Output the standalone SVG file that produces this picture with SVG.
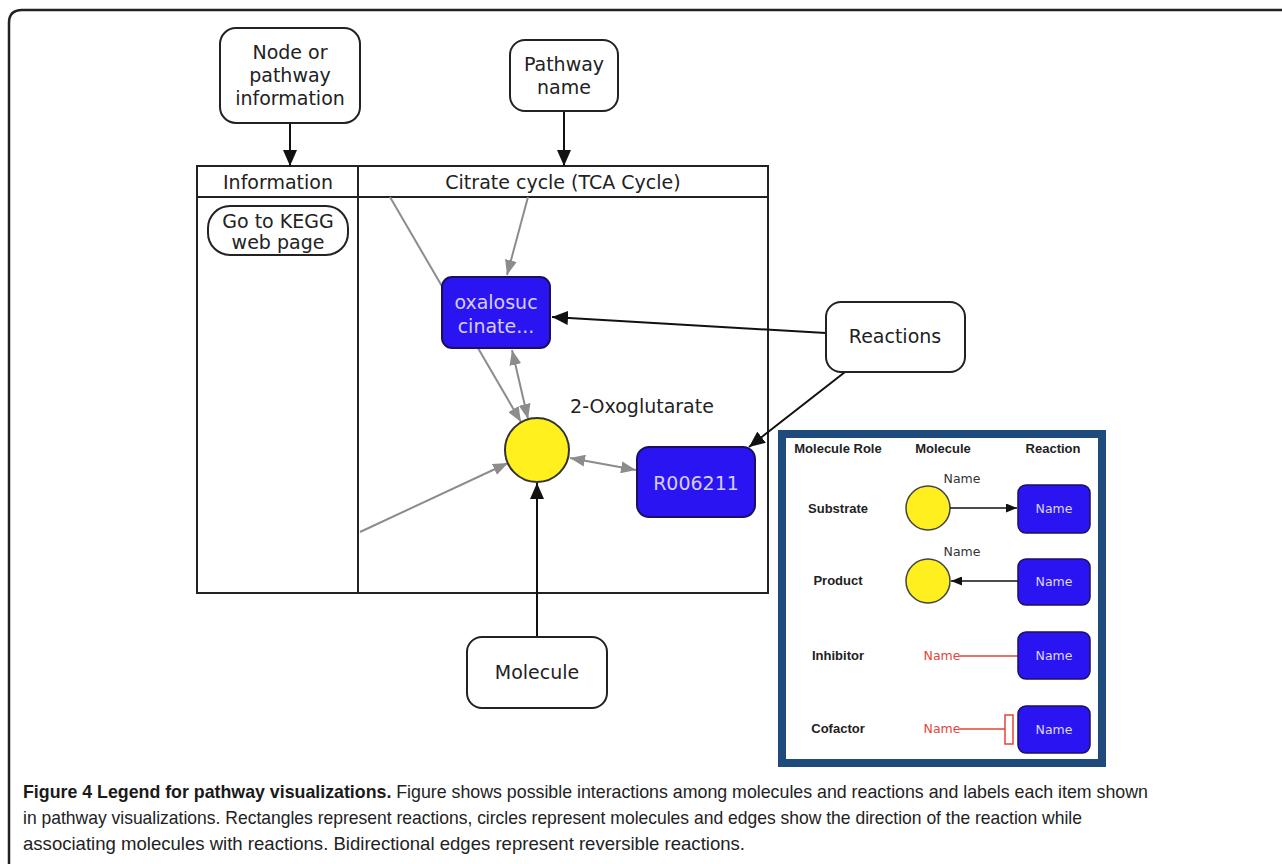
<svg xmlns="http://www.w3.org/2000/svg" width="1282" height="864" viewBox="0 0 1282 864">
<defs>
<style>
.call{fill:#fff;stroke:#222;stroke-width:2}
.t{font-family:"DejaVu Sans",Verdana,sans-serif;font-size:19px;fill:#222;text-anchor:middle}
.tb{font-family:"DejaVu Sans",Verdana,sans-serif;font-size:19px;fill:#d4cfff;text-anchor:middle}
.rx{fill:#2b14f2;stroke:#1b1060;stroke-width:2}
.mol{fill:#fff01e;stroke:#333;stroke-width:2}
.blk{stroke:#111;stroke-width:2;fill:none}
.gry{stroke:#8c8c8c;stroke-width:2;fill:none}
.lh{font-family:"Liberation Sans",Arial,sans-serif;font-weight:bold;font-size:13px;fill:#222;text-anchor:middle}
.ln{font-family:"DejaVu Sans",Verdana,sans-serif;font-size:12.5px;fill:#333;text-anchor:middle}
.lw{font-family:"DejaVu Sans",Verdana,sans-serif;font-size:12.5px;fill:#dcd8ff;text-anchor:middle}
.lr{font-family:"DejaVu Sans",Verdana,sans-serif;font-size:12.5px;fill:#e2443a;text-anchor:middle}
.cap{font-family:"Liberation Sans",Arial,sans-serif;font-size:18.5px;fill:#222}
</style>
<marker id="ab" markerUnits="userSpaceOnUse" markerWidth="16" markerHeight="14" refX="16" refY="7" orient="auto-start-reverse"><path d="M0,0 L16,7 L0,14 z" fill="#111"/></marker>
<marker id="ag" markerUnits="userSpaceOnUse" markerWidth="15" markerHeight="12" refX="15" refY="6" orient="auto-start-reverse"><path d="M0,0 L15,6 L0,12 z" fill="#8c8c8c"/></marker>
<marker id="as" markerUnits="userSpaceOnUse" markerWidth="11" markerHeight="9" refX="11" refY="4.5" orient="auto-start-reverse"><path d="M0,0 L11,4.5 L0,9 z" fill="#111"/></marker>
</defs>
<rect width="1282" height="864" fill="#fff"/>
<path d="M9,864 V23 Q9,10 22,10 H1282" fill="none" stroke="#222" stroke-width="2.5"/>

<g id="table">
<rect x="197" y="166" width="571" height="427" fill="none" stroke="#222" stroke-width="2"/>
<line x1="197" y1="197" x2="768" y2="197" stroke="#222" stroke-width="2"/>
<line x1="358" y1="166" x2="358" y2="593" stroke="#222" stroke-width="2"/>
<text class="t" x="278" y="189">Information</text>
<text class="t" x="563" y="189">Citrate cycle (TCA Cycle)</text>
</g>

<g id="connectors">
<line class="gry" x1="390" y1="197" x2="521" y2="422" marker-end="url(#ag)"/>
<line class="gry" x1="528" y1="197" x2="507" y2="275" marker-end="url(#ag)"/>
<line class="gry" x1="512" y1="350" x2="528" y2="419" marker-start="url(#ag)" marker-end="url(#ag)"/>
<line class="gry" x1="360" y1="532" x2="508" y2="463" marker-end="url(#ag)"/>
<line class="gry" x1="570" y1="458" x2="636" y2="470" marker-start="url(#ag)" marker-end="url(#ag)"/>
<line class="blk" x1="290" y1="123" x2="290" y2="166" marker-end="url(#ab)"/>
<line class="blk" x1="564" y1="111" x2="564" y2="166" marker-end="url(#ab)"/>
<line class="blk" x1="826" y1="333" x2="552" y2="317" marker-end="url(#ab)"/>
<line class="blk" x1="845" y1="372" x2="749" y2="447" marker-end="url(#ab)"/>
<line class="blk" x1="537" y1="637" x2="537" y2="483" marker-end="url(#ab)"/>
</g>

<g id="node-info">
<rect class="call" x="220" y="28" width="140" height="95" rx="16"/>
<text class="t" x="290" y="59">Node or</text>
<text class="t" x="290" y="82">pathway</text>
<text class="t" x="290" y="105">information</text>
</g>
<g id="pathway-name">
<rect class="call" x="510" y="40" width="108" height="71" rx="15"/>
<text class="t" x="564" y="71">Pathway</text>
<text class="t" x="564" y="94">name</text>
</g>
<g id="kegg">
<rect class="call" x="208" y="206" width="140" height="49" rx="22"/>
<text class="t" x="278" y="228">Go to KEGG</text>
<text class="t" x="278" y="249">web page</text>
</g>
<g id="oxalosuccinate">
<rect class="rx" x="442" y="277" width="108" height="71" rx="10"/>
<text class="tb" x="496" y="309">oxalosuc</text>
<text class="tb" x="496" y="333">cinate...</text>
</g>
<g id="oxoglutarate">
<circle class="mol" cx="537" cy="450" r="32"/>
<text class="t" x="642" y="413">2-Oxoglutarate</text>
</g>
<g id="r006211">
<rect class="rx" x="637" y="447" width="118" height="70" rx="12"/>
<text class="tb" x="696" y="490">R006211</text>
</g>
<g id="reactions">
<rect class="call" x="826" y="302" width="139" height="70" rx="15"/>
<text class="t" x="895" y="343">Reactions</text>
</g>
<g id="molecule">
<rect class="call" x="467" y="637" width="140" height="71" rx="15"/>
<text class="t" x="537" y="679">Molecule</text>
</g>

<g id="legend">
<rect x="782" y="434" width="320" height="329" fill="#fff" stroke="#1f4a7c" stroke-width="8"/>
<text class="lh" x="838" y="453">Molecule Role</text>
<text class="lh" x="943" y="453">Molecule</text>
<text class="lh" x="1053" y="453">Reaction</text>

<text class="lh" x="838" y="513">Substrate</text>
<text class="ln" x="962" y="483">Name</text>
<circle cx="928" cy="508" r="22" fill="#ffef1e" stroke="#444" stroke-width="1.5"/>
<line x1="950" y1="508" x2="1017" y2="508" stroke="#111" stroke-width="1.5" marker-end="url(#as)"/>
<rect x="1018" y="485" width="72" height="48" rx="8" fill="#2b14f2" stroke="#1b1060" stroke-width="1.5"/>
<text class="lw" x="1054" y="513">Name</text>

<text class="lh" x="838" y="585">Product</text>
<text class="ln" x="962" y="556">Name</text>
<circle cx="928" cy="581" r="22" fill="#ffef1e" stroke="#444" stroke-width="1.5"/>
<line x1="1018" y1="581" x2="951" y2="581" stroke="#111" stroke-width="1.5" marker-end="url(#as)"/>
<rect x="1018" y="559" width="72" height="46" rx="8" fill="#2b14f2" stroke="#1b1060" stroke-width="1.5"/>
<text class="lw" x="1054" y="586">Name</text>

<text class="lh" x="838" y="660">Inhibitor</text>
<text class="lr" x="942" y="660">Name</text>
<line x1="960" y1="656" x2="1018" y2="656" stroke="#e2443a" stroke-width="1.5"/>
<rect x="1018" y="632" width="72" height="47" rx="8" fill="#2b14f2" stroke="#1b1060" stroke-width="1.5"/>
<text class="lw" x="1054" y="660">Name</text>

<text class="lh" x="838" y="733">Cofactor</text>
<text class="lr" x="942" y="733">Name</text>
<line x1="960" y1="729" x2="1005" y2="729" stroke="#e2443a" stroke-width="1.5"/>
<rect x="1005" y="715" width="8" height="29" fill="none" stroke="#e2443a" stroke-width="1.5"/>
<rect x="1018" y="706" width="72" height="47" rx="8" fill="#2b14f2" stroke="#1b1060" stroke-width="1.5"/>
<text class="lw" x="1054" y="734">Name</text>
</g>

<g id="caption">
<text class="cap" x="23" y="798" textLength="1125" lengthAdjust="spacingAndGlyphs"><tspan font-weight="bold" fill="#1a1a1a">Figure 4 Legend for pathway visualizations.</tspan> Figure shows possible interactions among molecules and reactions and labels each item shown</text>
<text class="cap" x="23" y="824" textLength="1059" lengthAdjust="spacingAndGlyphs">in pathway visualizations. Rectangles represent reactions, circles represent molecules and edges show the direction of the reaction while</text>
<text class="cap" x="23" y="850" textLength="722" lengthAdjust="spacingAndGlyphs">associating molecules with reactions. Bidirectional edges represent reversible reactions.</text>
</g>
</svg>
